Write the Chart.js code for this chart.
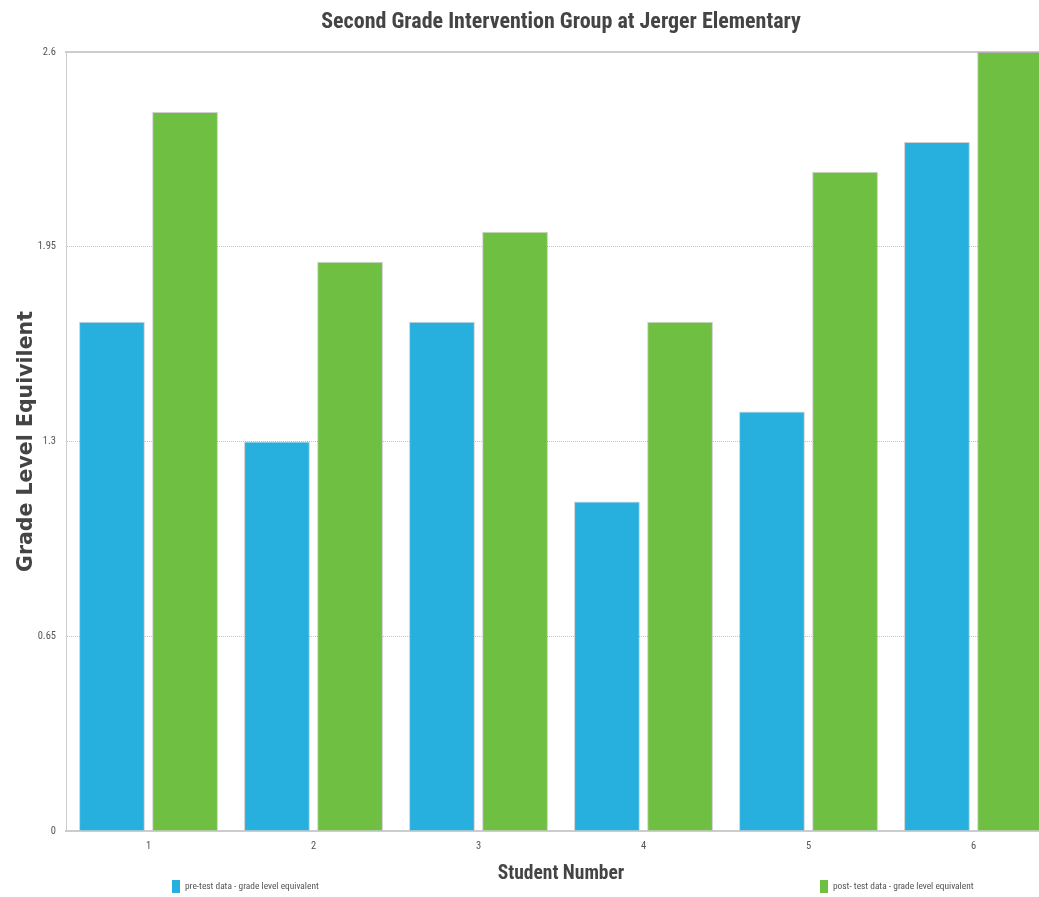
<!DOCTYPE html>
<html>
<head>
<meta charset="utf-8">
<script src="https://cdn.jsdelivr.net/npm/chart.js@4"></script>
<style>
  html, body { margin: 0; padding: 0; background: #fff; overflow: hidden; }
  #wrap { position: relative; width: 1056px; height: 897px; }
  #myChart { display: block; }
  .leg { position: absolute; top: 880px; height: 13px; line-height: 13px; font: 9.4px "Roboto Condensed", sans-serif; color: #555; white-space: nowrap; }
  .leg i { display: inline-block; width: 8px; height: 13px; vertical-align: top; margin-right: 5px; }
</style>
</head>
<body>
<div id="wrap">
  <canvas id="myChart" width="1056" height="897"></canvas>
  <div class="leg" id="leg1" style="left:172px"></div>
  <div class="leg" id="leg2" style="left:820px"></div>
</div>
<script>
// chart data
var students = ['1', '2', '3', '4', '5', '6'];
var preTest = [1.7, 1.3, 1.7, 1.1, 1.4, 2.3];
var postTest = [2.4, 1.9, 2.0, 1.7, 2.2, 2.6];
var yTicks = [0, 0.65, 1.3, 1.95, 2.6];
var seriesNames = ['pre-test data - grade level equivalent', 'post- test data - grade level equivalent'];
var colors = ['#27afde', '#6fbf43'];

Chart.defaults.font.family = '"Roboto Condensed", sans-serif';
Chart.defaults.color = '#555';

var ctx = document.getElementById('myChart').getContext('2d');
var chart = new Chart(ctx, {
  type: 'bar',
  data: {
    labels: students,
    datasets: [{
      label: seriesNames[0],
      data: preTest,
      backgroundColor: colors[0],
      borderColor: 'rgba(120,120,120,0.35)',
      borderWidth: 1
    }, {
      label: seriesNames[1],
      data: postTest,
      backgroundColor: colors[1],
      borderColor: 'rgba(120,120,120,0.35)',
      borderWidth: 1
    }]
  },
  options: {
    responsive: false,
    animation: false,
    devicePixelRatio: 1,
    categoryPercentage: 0.886,
    barPercentage: 0.9,
    layout: { padding: { bottom: 11 } },
    plugins: {
      legend: { display: false },
      tooltip: { enabled: false },
      title: {
        display: true,
        fullSize: false,
        text: 'Second Grade Intervention Group at Jerger Elementary',
        color: '#444',
        font: { size: 22, weight: 'bold' },
        padding: { top: 9, bottom: 16.6 }
      }
    },
    scales: {
      x: {
        grid: { display: false },
        border: { color: '#ccc', width: 2 },
        ticks: { padding: 1, font: { size: 10.5 } },
        title: {
          display: true,
          text: 'Student Number',
          color: '#444',
          font: { size: 19.5, weight: 'bold' },
          padding: { top: 9, bottom: 0 }
        }
      },
      x2: {
        position: 'top',
        grid: { display: false, drawTicks: false },
        ticks: { display: false },
        border: { color: '#ccc', width: 2 }
      },
      y: {
        min: 0,
        max: 2.6,
        afterBuildTicks: function (s) { s.ticks = yTicks.map(function (v) { return { value: v }; }); },
        afterFit: function (s) { s.width = 66; },
        ticks: { padding: 10, font: { size: 10.5 }, callback: function (v) { return String(v); } },
        grid: {
          drawTicks: false,
          color: function (c) { return (c.tick && (c.tick.value === 0 || c.tick.value === 2.6)) ? 'rgba(0,0,0,0)' : '#c4c4c4'; }
        },
        border: { color: '#ccc', width: 1, dash: [1, 1] },
        title: {
          display: true,
          text: 'Grade Level Equivilent',
          color: '#444',
          font: { family: '"DejaVu Sans"', size: 20.5, weight: 'bold' },
          padding: { top: 14, bottom: 0 }
        }
      }
    }
  }
});

document.getElementById('leg1').innerHTML = '<i style="background:' + colors[0] + '"></i>' + seriesNames[0];
document.getElementById('leg2').innerHTML = '<i style="background:' + colors[1] + '"></i>' + seriesNames[1];
</script>
</body>
</html>
